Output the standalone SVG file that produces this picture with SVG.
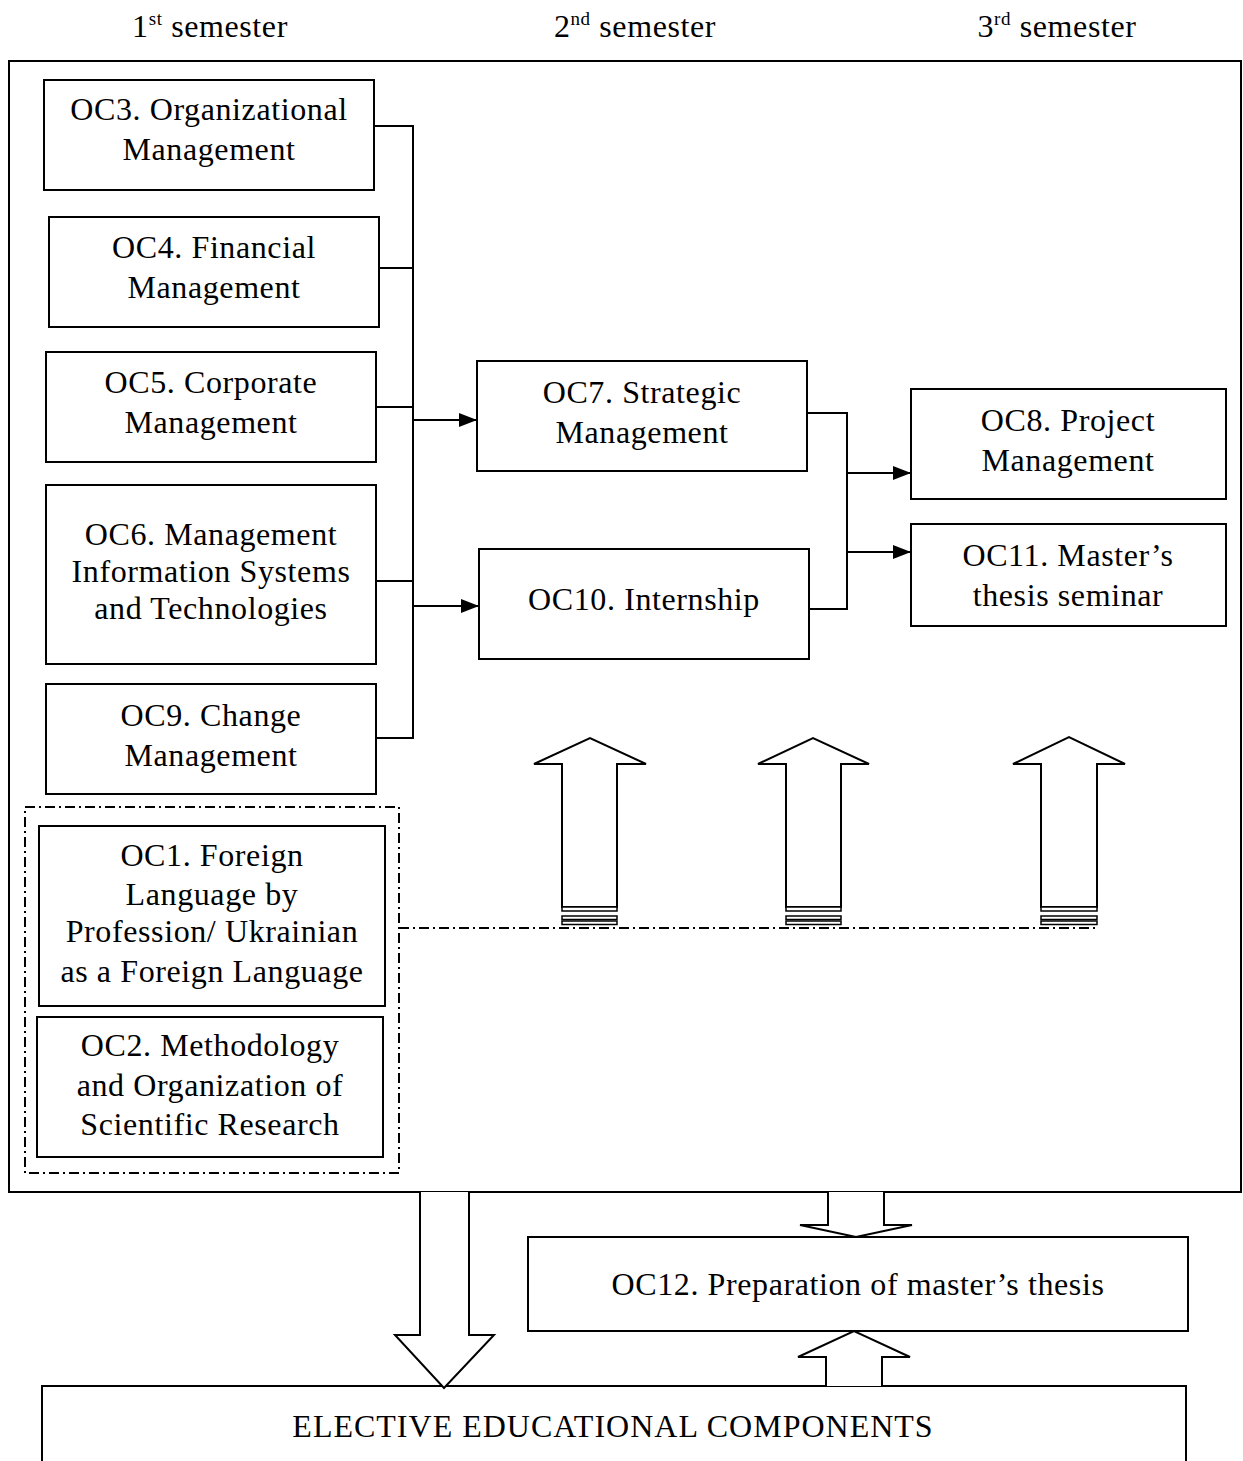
<svg xmlns="http://www.w3.org/2000/svg" width="1243" height="1461" viewBox="0 0 1243 1461">
<style>
text{font-family:"Liberation Serif","Times New Roman",serif;font-size:32px;fill:#000;text-anchor:middle;letter-spacing:0.6px}
.box{fill:#fff;stroke:#000;stroke-width:2}
.ln{fill:none;stroke:#000;stroke-width:2}
.blk{fill:#fff;stroke:#000;stroke-width:2;stroke-linejoin:miter}
.dd{fill:none;stroke:#000;stroke-width:2;stroke-dasharray:10 4 2 4}
.st{fill:#fff;stroke:#000;stroke-width:1.5}
</style>
<defs>
<marker id="ah" viewBox="0 0 18 14" refX="18" refY="7" markerWidth="18" markerHeight="14" markerUnits="userSpaceOnUse" orient="auto">
<path d="M0,0 L18,7 L0,14 Z" fill="#000"/>
</marker>
</defs>
<rect width="1243" height="1461" fill="#fff"/>
<g id="headers">
<text x="210" y="37">1<tspan font-size="19" dy="-12">st</tspan><tspan dy="12"> semester</tspan></text>
<text x="635" y="37">2<tspan font-size="19" dy="-12">nd</tspan><tspan dy="12"> semester</tspan></text>
<text x="1057" y="37">3<tspan font-size="19" dy="-12">rd</tspan><tspan dy="12"> semester</tspan></text>
</g>
<rect id="frame" x="9" y="61" width="1232" height="1131" class="box" fill="none"/>
<rect id="group-dashdot" x="25" y="807" width="374" height="366" class="dd"/>
<g id="connectors">
<path class="ln" d="M374,126 H413 V738 H376 M377,268 H413 M376,407 H413 M376,581 H413"/>
<path class="ln" d="M413,420 H477" marker-end="url(#ah)"/>
<path class="ln" d="M413,606 H479" marker-end="url(#ah)"/>
<path class="ln" d="M807,413 H847 V609 H809"/>
<path class="ln" d="M847,473 H911" marker-end="url(#ah)"/>
<path class="ln" d="M847,552 H911" marker-end="url(#ah)"/>
<path class="dd" d="M399,928 H1097"/>
</g>
<g id="oc3"><rect class="box" x="44" y="80" width="330" height="110"/><text x="209" y="120">OC3. Organizational</text><text x="209" y="160">Management</text></g>
<g id="oc4"><rect class="box" x="49" y="217" width="330" height="110"/><text x="214" y="258">OC4. Financial</text><text x="214" y="298">Management</text></g>
<g id="oc5"><rect class="box" x="46" y="352" width="330" height="110"/><text x="211" y="393">OC5. Corporate</text><text x="211" y="433">Management</text></g>
<g id="oc6"><rect class="box" x="46" y="485" width="330" height="179"/><text x="211" y="545">OC6. Management</text><text x="211" y="582">Information Systems</text><text x="211" y="619">and Technologies</text></g>
<g id="oc9"><rect class="box" x="46" y="684" width="330" height="110"/><text x="211" y="726">OC9. Change</text><text x="211" y="766">Management</text></g>
<g id="oc1"><rect class="box" x="39" y="826" width="346" height="180"/><text x="212" y="866">OC1. Foreign</text><text x="212" y="905">Language by</text><text x="212" y="942">Profession/ Ukrainian</text><text x="212" y="982">as a Foreign Language</text></g>
<g id="oc2"><rect class="box" x="37" y="1017" width="346" height="140"/><text x="210" y="1056">OC2. Methodology</text><text x="210" y="1096">and Organization of</text><text x="210" y="1135">Scientific Research</text></g>
<g id="oc7"><rect class="box" x="477" y="361" width="330" height="110"/><text x="642" y="403">OC7. Strategic</text><text x="642" y="443">Management</text></g>
<g id="oc10"><rect class="box" x="479" y="549" width="330" height="110"/><text x="644" y="610">OC10. Internship</text></g>
<g id="oc8"><rect class="box" x="911" y="389" width="315" height="110"/><text x="1068" y="431">OC8. Project</text><text x="1068" y="471">Management</text></g>
<g id="oc11"><rect class="box" x="911" y="524" width="315" height="102"/><text x="1068" y="566">OC11. Master’s</text><text x="1068" y="606">thesis seminar</text></g>
<g id="up-arrow-1">
<path class="blk" d="M562,907 V764 H534 L590,738 L646,764 H617 V907 Z"/>
<rect class="st" x="562" y="907" width="55" height="4"/><rect class="st" x="562" y="916" width="55" height="3.5"/><rect class="st" x="562" y="921" width="55" height="3.5"/>
</g>
<g id="up-arrow-2">
<path class="blk" d="M786,907 V764 H758 L813,738 L869,764 H841 V907 Z"/>
<rect class="st" x="786" y="907" width="55" height="4"/><rect class="st" x="786" y="916" width="55" height="3.5"/><rect class="st" x="786" y="921" width="55" height="3.5"/>
</g>
<g id="up-arrow-3">
<path class="blk" d="M1041,907 V764 H1013 L1069,737 L1125,764 H1097 V907 Z"/>
<rect class="st" x="1041" y="907" width="56" height="4"/><rect class="st" x="1041" y="916" width="56" height="3.5"/><rect class="st" x="1041" y="921" width="56" height="3.5"/>
</g>
<g id="oc12"><rect class="box" x="528" y="1237" width="660" height="94"/><text x="858" y="1295">OC12. Preparation of master’s thesis</text></g>
<g id="elective"><rect class="box" x="42" y="1386" width="1144" height="90"/><text x="613" y="1437" style="letter-spacing:1px">ELECTIVE EDUCATIONAL COMPONENTS</text></g>
<g id="block-arrows-bottom">
<path class="blk" d="M420,1192 V1335 H395 L444,1388 L494,1335 H469 V1192"/>
<path class="blk" d="M828,1192 V1225 H800 L856,1237 L912,1225 H884 V1192"/>
<path class="blk" d="M826,1386 V1357 H798 L854,1331 L910,1357 H882 V1386"/>
</g>
</svg>
